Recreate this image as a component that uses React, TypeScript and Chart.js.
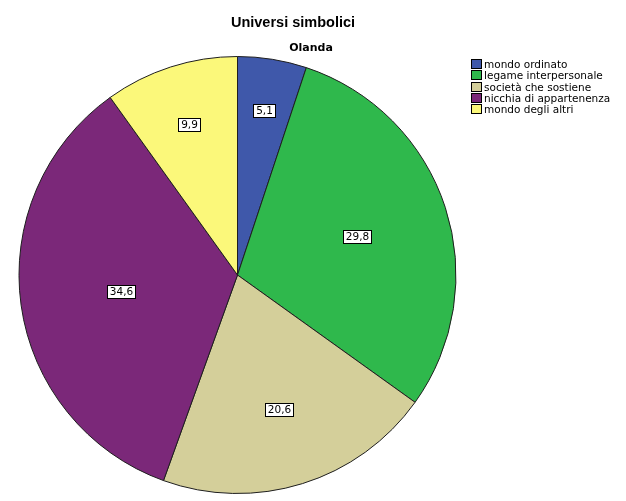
import React, { useEffect, useRef } from 'react';
import { Chart, registerables } from 'chart.js';

Chart.register(...registerables);

const chartTitle = 'Universi simbolici';
const chartSubtitle = 'Olanda';
const categories = [
  'mondo ordinato',
  'legame interpersonale',
  'società che sostiene',
  'nicchia di appartenenza',
  'mondo degli altri',
];
const percentages = [5.1, 29.8, 20.6, 34.6, 9.9];
const sliceColors = ['#3f58aa', '#2fb84c', '#d4cf9a', '#7b2879', '#fbf87a'];

const FONT = '"DejaVu Sans", Verdana, sans-serif';

// SPSS-style boxed value labels, titles and the legend block
const spssDecorations = {
  id: 'spssDecorations',
  afterDatasetsDraw(chart: Chart) {
    const { ctx } = chart;
    const meta = chart.getDatasetMeta(0);
    const total = percentages.reduce((a, b) => a + b, 0);

    ctx.save();
    ctx.font = `10.5px ${FONT}`;
    ctx.textAlign = 'center';
    ctx.textBaseline = 'middle';
    meta.data.forEach((arc: any, i: number) => {
      const { x, y, startAngle, endAngle, outerRadius } = arc.getProps(
        ['x', 'y', 'startAngle', 'endAngle', 'outerRadius'],
        true
      );
      const mid = (startAngle + endAngle) / 2;
      const ratio = 0.8 - 0.75 * (percentages[i] / total);
      const lx = x + Math.cos(mid) * outerRadius * ratio;
      const ly = y + Math.sin(mid) * outerRadius * ratio;
      const text = percentages[i].toFixed(1).replace('.', ',');
      const w = Math.round(ctx.measureText(text).width) + 5;
      const h = 13;
      const bx = Math.round(lx - w / 2) + 0.5;
      const by = Math.round(ly - h / 2) + 0.5;
      ctx.fillStyle = '#ffffff';
      ctx.fillRect(bx, by, w, h);
      ctx.strokeStyle = '#000000';
      ctx.lineWidth = 1;
      ctx.strokeRect(bx, by, w, h);
      ctx.fillStyle = '#000000';
      ctx.fillText(text, bx + w / 2, by + h / 2 + 0.5);
    });
    ctx.restore();
  },
  afterDraw(chart: Chart) {
    const { ctx } = chart;
    ctx.save();
    ctx.fillStyle = '#000000';
    ctx.textAlign = 'center';
    ctx.textBaseline = 'alphabetic';
    ctx.font = 'bold 14.5px "Liberation Sans", Arial, sans-serif';
    ctx.fillText(chartTitle, 293, 27);
    ctx.font = `bold 11px ${FONT}`;
    ctx.fillText(chartSubtitle, 311, 51);

    // legend
    ctx.textAlign = 'left';
    ctx.font = `10.5px ${FONT}`;
    categories.forEach((label, i) => {
      const top = Math.round(59 + i * 11.3);
      ctx.fillStyle = sliceColors[i];
      ctx.fillRect(471.5, top + 0.5, 10, 9);
      ctx.strokeStyle = '#000000';
      ctx.lineWidth = 1;
      ctx.strokeRect(471.5, top + 0.5, 10, 9);
      ctx.fillStyle = '#000000';
      ctx.fillText(label, 484, top + 9);
    });
    ctx.restore();
  },
};

const App: React.FC = () => {
  const canvasRef = useRef<HTMLCanvasElement>(null);

  useEffect(() => {
    if (!canvasRef.current) return;
    const chart = new Chart(canvasRef.current, {
      type: 'pie',
      data: {
        labels: categories,
        datasets: [
          {
            data: percentages,
            backgroundColor: sliceColors,
            borderColor: '#1e1e1e',
            borderWidth: 1,
          },
        ],
      },
      options: {
        responsive: false,
        animation: false,
        layout: { padding: { left: 18, right: 169, top: 56, bottom: 7 } },
        plugins: {
          legend: { display: false },
          tooltip: { enabled: false },
          title: { display: false },
        },
      },
      plugins: [spssDecorations],
    });
    return () => chart.destroy();
  }, []);

  return (
    <div style={{ position: 'absolute', left: 0, top: 0, width: 626, height: 501, background: '#fff' }}>
      <canvas ref={canvasRef} width={626} height={501} aria-label="Universi simbolici" />
    </div>
  );
};

export default App;
